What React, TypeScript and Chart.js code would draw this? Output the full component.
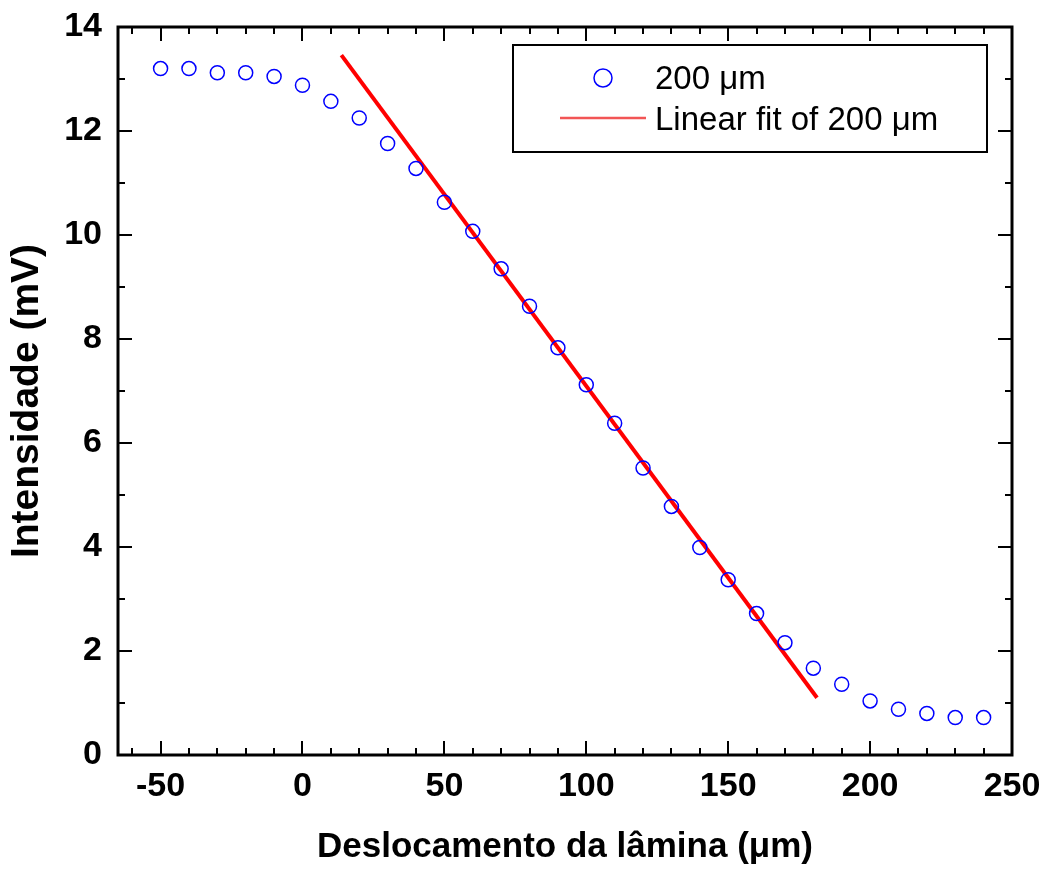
import React, { useEffect, useRef } from 'react';
import { Chart, registerables } from 'chart.js';

Chart.register(...registerables);

// ---- data ----
const displacement = [-50, -40, -30, -20, -10, 0, 10, 20, 30, 40, 50, 60, 70, 80, 90, 100, 110, 120, 130, 140, 150, 160, 170, 180, 190, 200, 210, 220, 230, 240];
const intensity = [13.2, 13.2, 13.12, 13.12, 13.05, 12.88, 12.57, 12.25, 11.76, 11.28, 10.63, 10.07, 9.35, 8.63, 7.83, 7.12, 6.38, 5.52, 4.78, 3.99, 3.37, 2.72, 2.16, 1.67, 1.36, 1.04, 0.88, 0.8, 0.72, 0.72];
const fitX = [13.7, 181.3];
const fitY = [13.46, 1.1];
const xMajorTicks = [-50, 0, 50, 100, 150, 200, 250];
const yMajorTicks = [0, 2, 4, 6, 8, 10, 12, 14];
const xMin = -65;
const xMax = 250;
const xMinorStep = 10;
const yMin = 0;
const yMax = 14;
const yMinorStep = 1;
const seriesLabel = '200 μm';
const fitLabel = 'Linear fit of 200 μm';
const xTitle = 'Deslocamento da lâmina (μm)';
const yTitle = 'Intensidade (mV)';

const FONT = '"Liberation Sans", Arial, sans-serif';
const POINT_COLOR = '#0000ff';
const FIT_COLOR = '#ff0000';

const framePlugin = {
  id: 'frameTicksLegend',
  afterDraw(chart: any) {
    const { ctx, chartArea, scales } = chart;
    const { left, right, top, bottom } = chartArea;
    const x = scales.x;
    const y = scales.y;
    ctx.save();
    ctx.strokeStyle = '#000';
    ctx.lineWidth = 2;
    ctx.beginPath();
    const startX = Math.ceil(xMin / xMinorStep) * xMinorStep;
    for (let v = startX; v <= xMax + 1e-9; v += xMinorStep) {
      const px = Math.round(x.getPixelForValue(v));
      const len = xMajorTicks.includes(v) ? 14 : 7;
      ctx.moveTo(px, bottom);
      ctx.lineTo(px, bottom - len);
      ctx.moveTo(px, top);
      ctx.lineTo(px, top + len);
    }
    for (let v = yMin; v <= yMax + 1e-9; v += yMinorStep) {
      const py = Math.round(y.getPixelForValue(v));
      const len = yMajorTicks.includes(v) ? 14 : 7;
      ctx.moveTo(left, py);
      ctx.lineTo(left + len, py);
      ctx.moveTo(right, py);
      ctx.lineTo(right - len, py);
    }
    ctx.stroke();
    ctx.lineWidth = 3;
    ctx.strokeRect(left, top, right - left, bottom - top);

    // y axis title (slightly below the plot centre, as in the reference)
    ctx.save();
    ctx.translate(27, (top + bottom) / 2 + 10);
    ctx.rotate(-Math.PI / 2);
    ctx.fillStyle = '#000';
    ctx.font = `bold 39px ${FONT}`;
    ctx.textAlign = 'center';
    ctx.textBaseline = 'middle';
    ctx.fillText(yTitle, 0, 0);
    ctx.restore();

    // legend
    ctx.strokeStyle = '#000';
    ctx.lineWidth = 2;
    ctx.strokeRect(513, 45, 474, 107);
    ctx.strokeStyle = POINT_COLOR;
    ctx.lineWidth = 1.5;
    ctx.beginPath();
    ctx.arc(603, 78, 9, 0, Math.PI * 2);
    ctx.stroke();
    ctx.strokeStyle = '#f25555';
    ctx.lineWidth = 2.5;
    ctx.beginPath();
    ctx.moveTo(560, 118);
    ctx.lineTo(646, 118);
    ctx.stroke();
    ctx.fillStyle = '#000';
    ctx.font = `33px ${FONT}`;
    ctx.textAlign = 'left';
    ctx.textBaseline = 'alphabetic';
    ctx.fillText(seriesLabel, 655, 89);
    ctx.fillText(fitLabel, 655, 130);
    ctx.restore();
  },
};

export default function App() {
  const canvasRef = useRef<HTMLCanvasElement | null>(null);

  useEffect(() => {
    const canvas = canvasRef.current;
    if (!canvas) return;
    const chart = new Chart(canvas, {
      type: 'scatter',
      data: {
        datasets: [
          {
            label: seriesLabel,
            data: displacement.map((d, i) => ({ x: d, y: intensity[i] })),
            showLine: false,
            pointStyle: 'circle',
            pointRadius: 7,
            pointHoverRadius: 7,
            pointBorderWidth: 1.5,
            borderColor: POINT_COLOR,
            backgroundColor: 'rgba(0,0,0,0)',
          },
          {
            label: fitLabel,
            data: fitX.map((d, i) => ({ x: d, y: fitY[i] })),
            showLine: true,
            pointRadius: 0,
            borderColor: FIT_COLOR,
            borderWidth: 4,
            backgroundColor: FIT_COLOR,
          },
        ],
      },
      options: {
        animation: false,
        responsive: false,
        devicePixelRatio: 1,
        layout: { padding: { left: 0, top: 27, right: 34, bottom: 0 } },
        plugins: { legend: { display: false }, tooltip: { enabled: false } },
        scales: {
          x: {
            type: 'linear',
            position: 'bottom',
            min: xMin,
            max: xMax,
            afterBuildTicks: (scale: any) => {
              scale.ticks = xMajorTicks.map((v) => ({ value: v }));
            },
            afterFit: (scale: any) => {
              scale.height = 114;
              scale.paddingLeft = 0;
              scale.paddingRight = 0;
            },
            grid: { display: false, drawTicks: false },
            border: { display: false },
            ticks: {
              color: '#000',
              padding: 11,
              maxRotation: 0,
              autoSkip: false,
              font: { family: FONT, size: 34, weight: 'bold' },
            },
            title: {
              display: true,
              text: xTitle,
              color: '#000',
              padding: { top: 0, bottom: 1 },
              font: { family: FONT, size: 35, weight: 'bold' },
            },
          },
          y: {
            type: 'linear',
            position: 'left',
            min: yMin,
            max: yMax,
            afterBuildTicks: (scale: any) => {
              scale.ticks = yMajorTicks.map((v) => ({ value: v }));
            },
            afterFit: (scale: any) => {
              scale.width = 118;
              scale.paddingTop = 0;
              scale.paddingBottom = 0;
            },
            grid: { display: false, drawTicks: false },
            border: { display: false },
            ticks: {
              color: '#000',
              padding: 16,
              autoSkip: false,
              font: { family: FONT, size: 34, weight: 'bold' },
            },
            title: { display: false },
          },
        },
      },
      plugins: [framePlugin],
    } as any);
    return () => chart.destroy();
  }, []);

  return (
    <div style={{ position: 'absolute', left: 0, top: 0, width: 1046, height: 869, background: '#fff' }}>
      <canvas ref={canvasRef} width={1046} height={869} />
    </div>
  );
}
